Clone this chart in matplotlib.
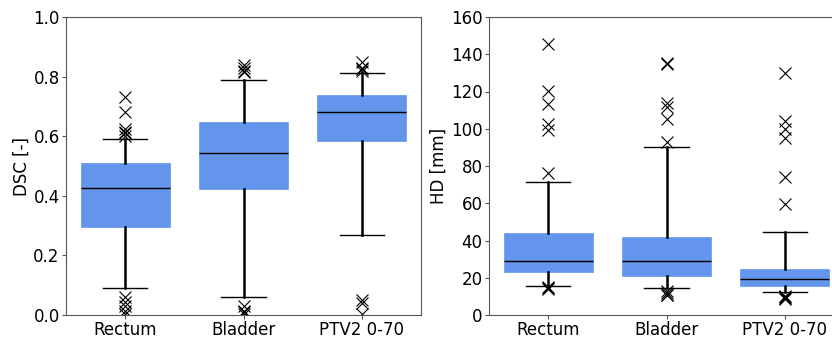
import matplotlib
matplotlib.use('Agg')
import matplotlib.pyplot as plt

labels = ['Rectum', 'Bladder', 'PTV2 0-70']

# DSC summary per structure: whisker low, q1, median, q3, whisker high
dsc_stats = [
    [0.09, 0.295, 0.426, 0.51, 0.59],
    [0.06, 0.423, 0.544, 0.648, 0.79],
    [0.27, 0.584, 0.681, 0.738, 0.812],
]
dsc_fliers = [
    [0.73, 0.68, 0.625, 0.615, 0.61, 0.60, 0.06, 0.045, 0.03, 0.015, 0.005],
    [0.84, 0.83, 0.82, 0.815, 0.03, 0.015, 0.01, 0.005],
    [0.85, 0.83, 0.825, 0.82, 0.05, 0.04, 0.005],
]

# HD summary per structure [mm]
hd_stats = [
    [15.8, 23.3, 29.0, 43.9, 71.6],
    [14.3, 21.0, 29.0, 42.0, 90.0],
    [12.3, 15.7, 19.3, 24.7, 44.4],
]
hd_fliers = [
    [145.3, 120.4, 113.3, 102.4, 99.3, 76.4, 15.0, 14.5, 14.0],
    [135.5, 134.8, 113.6, 111.5, 105.0, 93.0, 13.0, 12.0, 11.0, 10.5],
    [130.0, 104.3, 100.0, 95.0, 74.3, 59.4, 10.0, 9.5, 9.0, 8.7],
]


def make_stats(stats, fliers):
    out = []
    for (lo, q1, med, q3, hi), fl, lab in zip(stats, fliers, labels):
        out.append(dict(whislo=lo, q1=q1, med=med, q3=q3, whishi=hi,
                        fliers=fl, label=lab))
    return out


def draw(ax, stats, fliers):
    ax.bxp(make_stats(stats, fliers), widths=0.75, patch_artist=True,
           boxprops=dict(facecolor='cornflowerblue', edgecolor='cornflowerblue', linewidth=0.5),
           medianprops=dict(color='black', linewidth=1.0),
           whiskerprops=dict(color='black', linewidth=1.8),
           capprops=dict(color='black', linewidth=1.0),
           flierprops=dict(marker='x', markersize=8, markeredgecolor='black',
                           markeredgewidth=0.8, linestyle='none'))
    ax.set_xlim(0.5, 3.5)
    ax.tick_params(labelsize=12, length=3, pad=1.5, color='#555555')
    for s in ax.spines.values():
        s.set_color('#555555')


fig = plt.figure(figsize=(8.32, 3.38), dpi=100)
ax1 = fig.add_axes([66/832, 23/338, 355/832, 298/338])
ax2 = fig.add_axes([489/832, 23/338, 355/832, 298/338])

draw(ax1, dsc_stats, dsc_fliers)
ax1.set_ylim(0, 1.0)
ax1.set_ylabel('DSC [-]', fontsize=12, labelpad=2)

draw(ax2, hd_stats, hd_fliers)
ax2.set_ylim(0, 160)
ax2.set_ylabel('HD [mm]', fontsize=12, labelpad=2)

fig.savefig('out.png', dpi=100)
